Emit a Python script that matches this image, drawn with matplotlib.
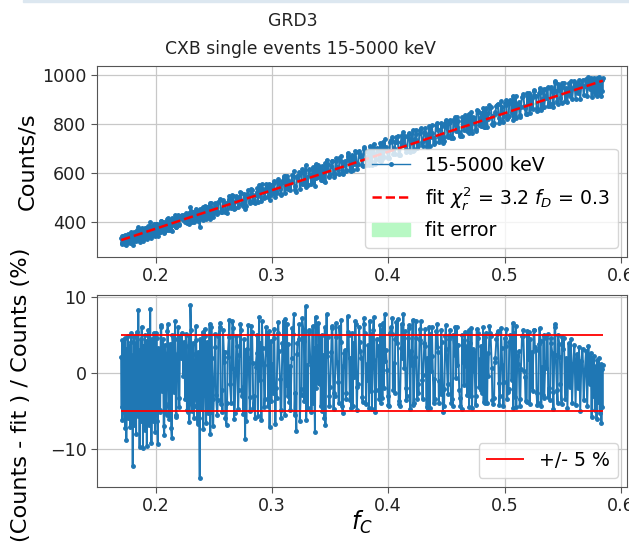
import numpy as np
import matplotlib
matplotlib.use("Agg")
import matplotlib.pyplot as plt
from matplotlib.patches import Rectangle

# ---------------- data ----------------
fc_a = [0.1705, 0.1709, 0.1712, 0.1716, 0.1720, 0.1723, 0.1727, 0.1731, 0.1734, 0.1738,
        0.1742, 0.1745, 0.1749, 0.1753, 0.1756, 0.1760, 0.1764, 0.1767, 0.1771, 0.1775,
        0.1778, 0.1782, 0.1786, 0.1789, 0.1793, 0.1797, 0.1800, 0.1804, 0.1808, 0.1811,
        0.1815, 0.1819, 0.1822, 0.1826, 0.1830, 0.1833, 0.1837, 0.1841, 0.1844, 0.1848,
        0.1852, 0.1855, 0.1859, 0.1863, 0.1866, 0.1870, 0.1874, 0.1877, 0.1881, 0.1885,
        0.1888, 0.1892, 0.1896, 0.1899, 0.1903, 0.1907, 0.1910, 0.1914, 0.1918, 0.1921,
        0.1925, 0.1929, 0.1932, 0.1936, 0.1940, 0.1943, 0.1947, 0.1951, 0.1954, 0.1958,
        0.1962, 0.1965, 0.1969, 0.1973, 0.1976, 0.1980, 0.1984, 0.1987, 0.1991, 0.1995]
res_a = [2.1, -4.5, 4.3, -6.2, 1.0, 3.8, -5.1, -2.0, 4.6, -7.3,
         0.5, 3.2, -8.9, 2.7, -3.6, 4.9, -6.0, -1.2, 3.5, -5.4,
         1.8, -7.1, 4.1, -2.8, 5.2, -6.6, 0.3, -12.3, 2.4, -4.0,
         4.7, -6.8, 1.5, -3.1, 3.9, -8.0, 5.4, -2.2, 0.8, -5.7,
         8.3, -4.8, 3.0, -9.7, 2.2, -1.5, 4.4, -6.3, 6.1, -3.4,
         1.2, -9.9, 3.6, -5.0, 0.1, 5.0, -7.5, 2.9, -2.6, 4.2,
         -9.6, 1.7, -4.2, 5.6, -0.9, -6.9, 3.3, -3.0, 8.4, -5.5,
         2.0, -9.3, 4.5, -1.8, 0.6, -6.4, 5.3, -3.7, 1.4, -7.8]

fc_b = [0.2001, 0.2011, 0.2020, 0.2031, 0.2040, 0.2049, 0.2060, 0.2070, 0.2079, 0.2090,
        0.2101, 0.2110, 0.2119, 0.2130, 0.2140, 0.2151, 0.2160, 0.2169, 0.2180, 0.2190,
        0.2201, 0.2210, 0.2220, 0.2231, 0.2240, 0.2249, 0.2260, 0.2270, 0.2281, 0.2290,
        0.2300, 0.2311, 0.2320, 0.2329, 0.2340, 0.2350, 0.2361, 0.2370, 0.2380, 0.2389,
        0.2400, 0.2410, 0.2421, 0.2430, 0.2440, 0.2449, 0.2460, 0.2470, 0.2480, 0.2491]
res_b = [-3.8, 4.6, -9.4, 2.3, -5.2, 6.3, -1.1, -7.0, 3.7, -4.4,
         5.5, 0.9, -6.1, 3.1, -8.6, 4.0, -2.5, 6.8, -5.8, 2.6,
         -3.3, 4.8, 1.9, 3.4, -0.4, 2.2, 5.1, -4.9, -3.6, -6.5,
         8.9, -4.1, 2.5, -5.9, -3.2, 4.3, -6.7, -2.9, -13.9, -4.6,
         3.0, -7.4, 5.8, -1.6, 4.1, -5.3, 2.8, -8.1, 6.0, -3.5]

fc_b2 = [0.2005, 0.2015, 0.2025, 0.2035, 0.2045, 0.2055, 0.2065, 0.2075, 0.2085, 0.2095,
         0.2105, 0.2115, 0.2125, 0.2135, 0.2145, 0.2155, 0.2165, 0.2175, 0.2185, 0.2195,
         0.2205, 0.2215, 0.2225, 0.2235, 0.2245, 0.2255, 0.2265, 0.2275, 0.2285, 0.2295,
         0.2305, 0.2315, 0.2325, 0.2335, 0.2345, 0.2355, 0.2365, 0.2375, 0.2385, 0.2395,
         0.2405, 0.2415, 0.2425, 0.2435, 0.2445, 0.2455, 0.2465, 0.2475, 0.2485, 0.2495]
res_b2 = [5.2, -6.3, 3.3, -4.9, 6.0, -2.4, 4.4, -8.2, 2.1, -5.5,
          6.4, -3.9, 3.8, -7.3, 5.0, -1.8, 4.5, -5.6, 2.3, 6.1,
          -4.5, 3.7, 5.3, 2.8, 4.1, -3.4, 3.6, -5.2, 4.9, -3.8,
          5.6, -5.0, 3.9, -4.4, 6.2, -3.6, 2.7, -6.0, 4.4, -4.8,
          5.4, -2.9, 4.8, -6.6, 3.1, -3.0, 6.5, -5.1, 2.0, -7.0]

# middle part, odd thousandths
fc_c = [0.251, 0.253, 0.255, 0.257, 0.259, 0.261, 0.263, 0.265, 0.267, 0.269,
        0.271, 0.273, 0.275, 0.277, 0.279, 0.281, 0.283, 0.285, 0.287, 0.289,
        0.291, 0.293, 0.295, 0.297, 0.299, 0.301, 0.303, 0.305, 0.307, 0.309,
        0.311, 0.313, 0.315, 0.317, 0.319, 0.321, 0.323, 0.325, 0.327, 0.329,
        0.331, 0.333, 0.335, 0.337, 0.339, 0.341, 0.343, 0.345, 0.347, 0.349,
        0.351, 0.353, 0.355, 0.357, 0.359, 0.361, 0.363, 0.365, 0.367, 0.369,
        0.371, 0.373, 0.375, 0.377, 0.379, 0.381, 0.383, 0.385, 0.387, 0.389,
        0.391, 0.393, 0.395, 0.397, 0.399, 0.401, 0.403, 0.405, 0.407, 0.409,
        0.411, 0.413, 0.415, 0.417, 0.419, 0.421, 0.423, 0.425, 0.427, 0.429,
        0.431, 0.433, 0.435, 0.437, 0.439, 0.441, 0.443, 0.445, 0.447, 0.449,
        0.451, 0.453, 0.455, 0.457, 0.459, 0.461, 0.463, 0.465, 0.467, 0.469,
        0.471, 0.473, 0.475, 0.477, 0.479, 0.481, 0.483, 0.485, 0.487, 0.489,
        0.491, 0.493, 0.495, 0.497, 0.499, 0.501, 0.503, 0.505, 0.507, 0.509,
        0.511, 0.513, 0.515, 0.517, 0.519, 0.521, 0.523, 0.525, 0.527, 0.529,
        0.531, 0.533, 0.535, 0.537, 0.539, 0.541, 0.543, 0.545, 0.547, 0.549]
res_c = [3.4, -5.6, 6.1, -2.3, 1.5, -6.8, 4.7, -3.9, 5.9, 0.7,
         -4.8, 6.5, -1.9, -8.7, 3.2, -5.0, 5.4, -3.1, 2.6, 7.3,
         -6.2, 1.1, 6.0, -4.3, 4.2, -2.7, -6.7, 5.2, -0.8, 3.9,
         -5.5, 6.4, -3.8, 2.0, 7.7, -7.6, 4.4, -2.1, 5.7, 8.8,
         -4.6, 1.6, 6.2, -7.8, 3.5, -1.4, 5.0, -5.9, 7.7, -3.0,
         2.8, -4.7, 6.6, -1.2, 4.1, -5.3, 3.0, 7.5, -3.6, 5.3,
         -0.5, -4.9, 6.0, 1.9, 7.2, -4.1, 3.7, -2.4, 5.6, -5.1,
         2.3, 6.3, -3.3, 7.7, 0.4, -4.4, 5.1, 1.3, 6.7, -3.7,
         3.3, 7.8, -2.0, 4.6, -4.8, 7.0, 2.1, -3.4, 5.8, -1.0,
         4.0, -4.5, 6.1, 0.2, -3.9, 5.5, 2.7, -2.8, -5.2, 4.9,
         -1.5, 5.7, -3.5, 2.4, 6.0, -2.2, -4.8, 4.3, 0.9, 5.6,
         -3.0, 3.1, -4.2, 5.2, 1.8, -2.6, 4.7, -4.0, 6.2, 0.6,
         -3.3, 4.5, -1.3, 5.9, -4.4, 3.6, -2.5, 5.0, 6.6, -3.2,
         2.2, -4.3, 4.8, 0.3, -3.8, 5.4, -1.7, 5.6, 3.0, -4.0,
         4.2, -2.9, 1.5, 5.1, -3.6, 2.6, 6.4, -2.3, 3.8, -4.1]

# middle part, even thousandths
fc_c2 = [0.252, 0.254, 0.256, 0.258, 0.260, 0.262, 0.264, 0.266, 0.268, 0.270,
         0.272, 0.274, 0.276, 0.278, 0.280, 0.282, 0.284, 0.286, 0.288, 0.290,
         0.292, 0.294, 0.296, 0.298, 0.300, 0.302, 0.304, 0.306, 0.308, 0.310,
         0.312, 0.314, 0.316, 0.318, 0.320, 0.322, 0.324, 0.326, 0.328, 0.330,
         0.332, 0.334, 0.336, 0.338, 0.340, 0.342, 0.344, 0.346, 0.348, 0.350,
         0.352, 0.354, 0.356, 0.358, 0.360, 0.362, 0.364, 0.366, 0.368, 0.370,
         0.372, 0.374, 0.376, 0.378, 0.380, 0.382, 0.384, 0.386, 0.388, 0.390,
         0.392, 0.394, 0.396, 0.398, 0.400, 0.402, 0.404, 0.406, 0.408, 0.410,
         0.412, 0.414, 0.416, 0.418, 0.420, 0.422, 0.424, 0.426, 0.428, 0.430,
         0.432, 0.434, 0.436, 0.438, 0.440, 0.442, 0.444, 0.446, 0.448, 0.450,
         0.452, 0.454, 0.456, 0.458, 0.460, 0.462, 0.464, 0.466, 0.468, 0.470,
         0.472, 0.474, 0.476, 0.478, 0.480, 0.482, 0.484, 0.486, 0.488, 0.490,
         0.492, 0.494, 0.496, 0.498, 0.500, 0.502, 0.504, 0.506, 0.508, 0.510,
         0.512, 0.514, 0.516, 0.518, 0.520, 0.522, 0.524, 0.526, 0.528, 0.530,
         0.532, 0.534, 0.536, 0.538, 0.540, 0.542, 0.544, 0.546, 0.548, 0.550]
res_c2 = [-2.9, 4.8, -4.1, 5.6, -6.0, 2.1, -1.4, 6.8, -5.3, 3.6,
          2.4, -3.0, 4.5, -6.4, 1.9, 6.2, -4.6, 0.8, -5.7, 4.0,
          3.3, -3.5, 5.3, -7.1, 1.2, 5.8, -3.3, 2.9, -6.0, 6.9,
          -1.6, 3.8, -4.9, 5.1, -2.6, 4.0, -6.3, 7.2, -3.7, 1.0,
          5.6, -5.1, 3.3, -2.0, 6.6, -4.4, 2.4, -6.9, 4.7, -1.8,
          5.9, -3.1, 1.4, 6.1, -4.3, 2.6, -2.7, 5.0, -4.6, 3.9,
          6.5, -1.5, 2.9, -3.8, 5.2, -0.9, 6.9, -4.8, 1.7, 4.4,
          -3.5, 5.7, -2.0, 3.0, -4.2, 6.0, -2.3, 4.4, 7.1, -4.4,
          2.0, 5.5, -3.1, 6.3, 1.0, -3.9, 4.6, -2.6, 6.8, -0.3,
          3.5, -4.7, 5.1, 2.2, -3.4, 6.4, -1.1, 4.1, -4.3, 3.2,
          4.5, -3.9, 5.0, -0.7, 3.7, -4.4, 1.5, 5.4, -2.9, 4.0,
          -4.6, 2.7, 5.8, -1.9, 3.6, -3.8, 5.3, -0.4, 4.9, -4.1,
          2.0, 5.5, -3.0, 1.1, 4.6, -3.4, 4.1, -1.0, 5.2, -4.5,
          2.9, 0.5, 5.7, -3.7, 1.8, 4.4, -2.4, 3.4, -4.2, 5.9,
          0.8, -3.3, 4.6, -2.0, 3.9, -4.8, 2.3, 5.0, -1.5, 3.1]

# middle part, half thousandths
fc_c3 = [0.2515, 0.2535, 0.2555, 0.2575, 0.2595, 0.2615, 0.2635, 0.2655, 0.2675, 0.2695,
         0.2715, 0.2735, 0.2755, 0.2775, 0.2795, 0.2815, 0.2835, 0.2855, 0.2875, 0.2895,
         0.2915, 0.2935, 0.2955, 0.2975, 0.2995, 0.3015, 0.3035, 0.3055, 0.3075, 0.3095,
         0.3115, 0.3135, 0.3155, 0.3175, 0.3195, 0.3215, 0.3235, 0.3255, 0.3275, 0.3295,
         0.3315, 0.3335, 0.3355, 0.3375, 0.3395, 0.3415, 0.3435, 0.3455, 0.3475, 0.3495,
         0.3515, 0.3535, 0.3555, 0.3575, 0.3595, 0.3615, 0.3635, 0.3655, 0.3675, 0.3695,
         0.3715, 0.3735, 0.3755, 0.3775, 0.3795, 0.3815, 0.3835, 0.3855, 0.3875, 0.3895,
         0.3915, 0.3935, 0.3955, 0.3975, 0.3995, 0.4015, 0.4035, 0.4055, 0.4075, 0.4095,
         0.4115, 0.4135, 0.4155, 0.4175, 0.4195, 0.4215, 0.4235, 0.4255, 0.4275, 0.4295,
         0.4315, 0.4335, 0.4355, 0.4375, 0.4395, 0.4415, 0.4435, 0.4455, 0.4475, 0.4495,
         0.4515, 0.4535, 0.4555, 0.4575, 0.4595, 0.4615, 0.4635, 0.4655, 0.4675, 0.4695,
         0.4715, 0.4735, 0.4755, 0.4775, 0.4795, 0.4815, 0.4835, 0.4855, 0.4875, 0.4895,
         0.4915, 0.4935, 0.4955, 0.4975, 0.4995, 0.5015, 0.5035, 0.5055, 0.5075, 0.5095,
         0.5115, 0.5135, 0.5155, 0.5175, 0.5195, 0.5215, 0.5235, 0.5255, 0.5275, 0.5295,
         0.5315, 0.5335, 0.5355, 0.5375, 0.5395, 0.5415, 0.5435, 0.5455, 0.5475, 0.5495]
res_c3 = [5.1, -3.6, 6.6, -5.2, 2.8, -4.0, 7.0, 0.6, -6.1, 4.9,
          -2.2, 5.7, -5.4, 3.0, 6.3, -3.2, 1.3, -5.9, 5.0, -1.0,
          6.9, -4.5, 2.5, 5.5, -3.7, 4.6, -2.0, 6.7, -4.9, 3.1,
          7.1, -3.0, 0.9, 5.9, -5.6, 2.5, 6.4, -2.9, 4.2, -6.2,
          5.4, 1.4, -3.9, 7.4, -1.3, 4.8, -5.0, 6.0, 2.2, -4.3,
          6.2, -2.6, 4.7, -4.0, 7.0, 0.9, -3.5, 5.4, 2.0, -4.4,
          6.8, -1.8, 4.1, -3.2, 6.4, 1.2, -4.6, 5.1, 7.3, -2.2,
          3.5, -4.0, 6.6, 1.6, -3.0, 5.3, 7.2, -2.7, 3.9, -4.1,
          6.5, 0.6, -3.6, 5.9, 2.9, -4.2, 6.9, -1.4, 4.3, -3.5,
          5.8, 1.9, -4.6, 6.1, -0.8, 3.4, -4.0, 5.6, -2.1, 6.3,
          -2.8, 4.8, -4.3, 6.1, 1.0, -3.3, 5.0, -1.6, 3.5, -4.5,
          5.9, 0.3, -3.1, 4.6, -2.3, 6.0, -4.0, 2.6, 5.3, -3.6,
          1.4, 5.1, -4.2, 3.3, -1.2, 5.8, -2.1, 4.0, -4.6, 6.2,
          1.2, -3.5, 4.9, -0.6, 5.5, -4.1, 2.8, 5.7, -2.7, 3.8,
          -4.4, 5.0, 0.7, -3.2, 4.6, -2.5, 6.0, -3.9, 2.1, 4.7]

fc_d = [0.5510, 0.5520, 0.5530, 0.5540, 0.5550, 0.5560, 0.5570, 0.5580, 0.5590, 0.5600,
        0.5610, 0.5620, 0.5630, 0.5640, 0.5650, 0.5660, 0.5670, 0.5680, 0.5690, 0.5700,
        0.5710, 0.5720, 0.5730, 0.5740, 0.5748, 0.5755, 0.5762, 0.5769, 0.5776, 0.5783,
        0.5790, 0.5797, 0.5804, 0.5811, 0.5818, 0.5825, 0.5832, 0.5838, 0.5841, 0.5844]
res_d = [4.6, -3.4, 2.0, -4.6, 3.9, -1.8, 4.4, -3.9, 1.2, 3.7,
         -4.2, 2.5, -2.0, 3.4, -5.0, 1.6, 3.2, -3.6, 0.4, 2.9,
         -4.4, 3.5, -1.5, 2.6, -5.8, 1.9, -3.0, 2.2, -4.9, 0.9,
         -6.1, 1.7, -3.8, 2.0, -5.3, 1.2, -6.6, 0.5, -4.5, 1.0]

# straight-line fit read at its two ends
fit_fc = [0.1705, 0.5844]
fit_counts = [326.0, 978.0]
fit_err = 2.0          # counts/s, half width of the (barely visible) fit error band

band_limit = 5.0       # +/- 5 %

title_top = "GRD3"
title_sub = "CXB single events 15-5000 keV"
data_label = "15-5000 keV"
fit_label = r"fit $\chi^2_r$ = 3.2 $f_D$ = 0.3"

# ---------------- derived ----------------
fc = np.array(fc_a + fc_b + fc_b2 + fc_c + fc_c2 + fc_c3 + fc_d)
res = np.array(res_a + res_b + res_b2 + res_c + res_c2 + res_c3 + res_d)
order_idx = np.argsort(fc, kind="stable")
fc, res = fc[order_idx], res[order_idx]
fit_at = np.interp(fc, fit_fc, fit_counts)
counts = fit_at / (1.0 - res / 100.0)   # res = (counts - fit)/counts*100

# ---------------- figure ----------------
W, H = 629, 542
fig = plt.figure(figsize=(W / 100, H / 100), dpi=100)

def ax_rect(x0, y0, x1, y1):
    return [x0 / W, 1 - y1 / H, (x1 - x0) / W, (y1 - y0) / H]

ax1 = fig.add_axes(ax_rect(97, 66, 627, 257))
ax2 = fig.add_axes(ax_rect(97, 295, 627, 487))

tick_fs = 12.6
lab_fs = 16.2
leg_fs = 13.6
spine_c = "#555555"
blue = "#1f77b4"

# top panel
ax1.fill_between(fit_fc, [v - fit_err for v in fit_counts], [v + fit_err for v in fit_counts],
                 color="#b8f8c4", label="fit error", zorder=1)
ax1.plot(fc, counts, ".-", color=blue, lw=1.4, ms=5, label=data_label, zorder=2)
ax1.plot(fit_fc, fit_counts, "--", color="red", lw=1.8, label=fit_label, zorder=3)
ax1.set_xlim(0.1497, 0.6052)
ax1.set_ylim(257, 1038)
ax1.set_yticks([400, 600, 800, 1000])
ax1.set_xticks([0.2, 0.3, 0.4, 0.5, 0.6])
ax1.set_ylabel("Counts/s", fontsize=lab_fs)
ax1.yaxis.set_label_coords(-0.112, 0.5)
h, l = ax1.get_legend_handles_labels()
order = [l.index(data_label), l.index(fit_label), l.index("fit error")]
leg1 = ax1.legend([h[i] for i in order], [l[i] for i in order], loc="lower right", fontsize=leg_fs)
leg1.get_lines()[0].set_linewidth(1.0)

# bottom panel
ax2.plot(fc, res, ".-", color=blue, lw=1.4, ms=5, zorder=2)
ax2.hlines([band_limit, -band_limit], fc.min(), fc.max(), colors="red", lw=1.3,
           label="+/- 5 %", zorder=3)
ax2.set_xlim(0.1497, 0.6052)
ax2.set_ylim(-15.03, 10.26)
ax2.set_yticks([-10, 0, 10])
ax2.set_xticks([0.2, 0.3, 0.4, 0.5, 0.6])
ax2.set_ylabel("(Counts - fit ) / Counts (%)", fontsize=lab_fs)
ax2.yaxis.set_label_coords(-0.125, 0.48)
ax2.set_xlabel(r"$f_C$", fontsize=17)
ax2.xaxis.set_label_coords(0.5, -0.115)
ax2.legend(loc="lower right", fontsize=leg_fs)

for ax in (ax1, ax2):
    ax.grid(True, color="#c8c8c8", lw=0.9)
    ax.set_axisbelow(True)
    ax.tick_params(labelsize=tick_fs, colors="#222222", length=4, color=spine_c)
    for s in ax.spines.values():
        s.set_color(spine_c)
    ax.xaxis.set_major_formatter(matplotlib.ticker.FormatStrFormatter("%.1f"))

fig.text(293 / W, 1 - 21 / H, title_top, ha="center", va="center", fontsize=12.4, color="#222222")
fig.text(300 / W, 1 - 49 / H, title_sub, ha="center", va="center", fontsize=12.4, color="#222222")

# thin light strip along the very top edge of the picture
fig.patches.append(Rectangle((23 / W, 1 - 2 / H), 1 - 23 / W, 2 / H, transform=fig.transFigure,
                             color="#dce7f0", zorder=0))

fig.savefig("out.png", dpi=100)
